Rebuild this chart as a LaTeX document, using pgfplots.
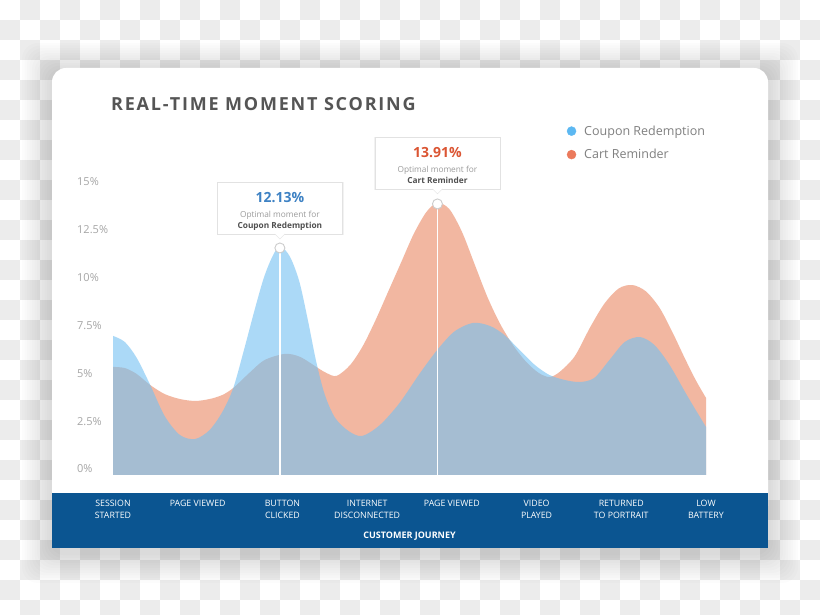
\documentclass[border=0pt]{standalone}
\usepackage{fontspec}
\setmainfont{Open Sans}
\usepackage{pgfplots}
\pgfplotsset{compat=1.18}
\definecolor{chk}{HTML}{ECECEC}
\definecolor{cpnfill}{RGB}{115,193,243}
\definecolor{crtfill}{RGB}{242,183,161}
\definecolor{barblue}{HTML}{0B5591}
\definecolor{titlegray}{HTML}{555555}
\definecolor{ticklab}{HTML}{A6A6A6}
\definecolor{legtext}{HTML}{808080}
\definecolor{cpndot}{HTML}{5CB8F2}
\definecolor{crtdot}{HTML}{EB7A5C}
\definecolor{cpnnum}{HTML}{3E82C4}
\definecolor{crtnum}{HTML}{DB5533}
\definecolor{boxline}{HTML}{E2E2E2}
\definecolor{subgray}{HTML}{9B9B9B}
\definecolor{boldgray}{HTML}{505050}
\begin{document}
\begin{tikzpicture}
\begin{scope}[x=1pt,y=-1pt,yshift=615pt]
\fill[white] (0,0) rectangle (820,615);
\foreach \i in {0,...,40}{\foreach \j in {0,...,30}{\pgfmathtruncatemacro\p{mod(\i+\j,2)}\ifnum\p=1 \fill[chk] (\i*20,\j*20) rectangle ++(20,20);\fi}}
\foreach \k in {1,...,12}{\fill[black,opacity=0.013,rounded corners=16] ({52-2.5*\k},{68-2.5*\k+5}) rectangle ({768+2.5*\k},{548+2.5*\k+5});}
\fill[white,rounded corners=14] (52,68) rectangle (768,520);
\fill[white] (52,500) rectangle (768,548);
\fill[barblue] (52,493) rectangle (768,548);
\node[anchor=west, inner sep=0pt, text=titlegray, font=\fontsize{18}{20}\selectfont\bfseries\addfontfeature{LetterSpace=10}] at (111,104) {REAL-TIME MOMENT SCORING};
\end{scope}
\begin{axis}[at={(113pt,140pt)}, anchor=south west, scale only axis, width=593pt, height=287pt,
 xmin=0, xmax=7, ymin=0, ymax=15, clip=false, axis line style={draw=none}, major tick length=0pt,
 xtick={0,...,7},
 xticklabels={{SESSION\\STARTED},{PAGE VIEWED},{BUTTON\\CLICKED},{INTERNET\\DISCONNECTED},{PAGE VIEWED},{VIDEO\\PLAYED},{RETURNED\\TO PORTRAIT},{LOW\\BATTERY}},
 xticklabel style={text=white, font=\fontsize{8.8}{12}\selectfont, align=center, anchor=north, inner sep=0pt, yshift=-25pt},
 ytick={0,2.5,5,7.5,10,12.5,15},
 yticklabels={0\%,2.5\%,5\%,7.5\%,10\%,12.5\%,15\%},
 yticklabel style={text=ticklab, font=\fontsize{11}{13}\selectfont, anchor=base west, inner sep=0pt, xshift=-36pt, yshift=2pt},
 xlabel={CUSTOMER JOURNEY},
 xlabel style={at={(axis description cs:0.5,0)}, anchor=center, yshift=-61pt, text=white, font=\fontsize{9}{11}\selectfont\bfseries},
 legend style={at={(rel axis cs:0.765,1.225)}, anchor=north west, draw=none, fill=none, font=\fontsize{12.5}{15}\selectfont, text=legtext, inner sep=0pt, row sep=8.5pt, column sep=6pt},
 legend cell align=left,
]
\addplot[draw=none, fill=crtfill, smooth, tension=0.5, forget plot] coordinates {
(0,5.65)(0.14,5.59)(0.28,5.28)(0.44,4.70)(0.61,4.23)(0.79,3.97)(0.97,3.87)(1.14,3.97)(1.29,4.18)(1.42,4.55)(1.62,5.38)(1.79,6.01)(2.03,6.33)(2.21,6.17)(2.42,5.59)(2.52,5.33)(2.64,5.18)(2.80,5.75)(2.95,6.75)(3.10,8.10)(3.25,9.60)(3.40,11.10)(3.55,12.60)(3.70,13.75)(3.83,14.22)(3.97,13.90)(4.12,12.70)(4.27,11.00)(4.42,9.30)(4.57,7.90)(4.72,6.80)(4.87,5.95)(5.02,5.35)(5.15,5.12)(5.27,5.38)(5.45,6.20)(5.63,7.70)(5.80,8.95)(5.97,9.75)(6.13,9.93)(6.29,9.60)(6.45,8.75)(6.60,7.50)(6.75,6.10)(6.88,4.95)(7.00,4.03)
} \closedcycle;
\addplot[draw=none, fill=cpnfill, fill opacity=0.6, smooth, tension=0.5, forget plot] coordinates {
(0,7.27)(0.14,6.95)(0.28,6.12)(0.44,4.70)(0.61,3.08)(0.79,2.09)(0.97,1.88)(1.14,2.35)(1.29,3.29)(1.42,4.55)(1.55,6.60)(1.67,8.60)(1.78,10.30)(1.88,11.40)(1.97,11.97)(2.09,11.40)(2.20,10.10)(2.30,8.10)(2.40,5.90)(2.50,4.20)(2.62,3.00)(2.78,2.30)(2.94,2.04)(3.15,2.61)(3.38,3.75)(3.62,5.30)(3.83,6.55)(4.03,7.50)(4.25,7.95)(4.45,7.79)(4.62,7.32)(4.80,6.53)(4.98,5.75)(5.15,5.23)(5.33,4.97)(5.51,4.86)(5.68,5.07)(5.86,6.01)(6.04,6.95)(6.22,7.21)(6.39,6.80)(6.57,5.75)(6.78,4.13)(7.00,2.51)
} \closedcycle;
\addlegendimage{legend image code/.code={\fill[cpndot] (0pt,0pt) circle (4.5pt);}}
\addlegendentry{Coupon Redemption}
\addlegendimage{legend image code/.code={\fill[crtdot] (0pt,0pt) circle (4.5pt);}}
\addlegendentry{Cart Reminder}
% peak markers and call-outs
\coordinate (P1) at (axis cs:1.97,11.97);
\coordinate (P2) at (axis cs:3.83,14.22);
\draw[white, line width=1.8pt] (axis cs:1.97,-0.2) -- (P1);
\draw[white, line width=1.8pt] (axis cs:3.83,-0.2) -- (P2);
\draw[fill=white, draw=black!20, line width=0.9pt] ([yshift=-2pt]P1) circle (5pt);
\draw[fill=white, draw=black!20, line width=0.9pt] ([yshift=-1pt]P2) circle (5pt);
% box 1
\fill[black,opacity=0.05] ([xshift=-63pt,yshift=11pt]P1) rectangle ([xshift=64pt,yshift=64pt]P1);
\draw[boxline, fill=white] ([xshift=-62.5pt,yshift=12pt]P1) rectangle ([xshift=62.5pt,yshift=64pt]P1);
\filldraw[boxline, fill=white] ([xshift=-5pt,yshift=12pt]P1) -- ([yshift=7pt]P1) -- ([xshift=5pt,yshift=12pt]P1);
\fill[white] ([xshift=-4.5pt,yshift=11.6pt]P1) rectangle ([xshift=4.5pt,yshift=13pt]P1);
\node[anchor=base, inner sep=0pt, text=cpnnum, font=\fontsize{14}{16}\selectfont\bfseries] at ([yshift=43pt]P1) {12.13\%};
\node[anchor=base, inner sep=0pt, text=subgray, font=\fontsize{8.3}{10}\selectfont] at ([yshift=28.5pt]P1) {Optimal moment for};
\node[anchor=base, inner sep=0pt, text=boldgray, font=\fontsize{8.3}{10}\selectfont\bfseries] at ([yshift=17.5pt]P1) {Coupon Redemption};
% box 2
\fill[black,opacity=0.05] ([xshift=-63pt,yshift=13pt]P2) rectangle ([xshift=64pt,yshift=66pt]P2);
\draw[boxline, fill=white] ([xshift=-62.5pt,yshift=14pt]P2) rectangle ([xshift=62.5pt,yshift=66pt]P2);
\filldraw[boxline, fill=white] ([xshift=-5pt,yshift=14pt]P2) -- ([yshift=9pt]P2) -- ([xshift=5pt,yshift=14pt]P2);
\fill[white] ([xshift=-4.5pt,yshift=13.6pt]P2) rectangle ([xshift=4.5pt,yshift=15pt]P2);
\node[anchor=base, inner sep=0pt, text=crtnum, font=\fontsize{14}{16}\selectfont\bfseries] at ([yshift=45pt]P2) {13.91\%};
\node[anchor=base, inner sep=0pt, text=subgray, font=\fontsize{8.3}{10}\selectfont] at ([yshift=30.5pt]P2) {Optimal moment for};
\node[anchor=base, inner sep=0pt, text=boldgray, font=\fontsize{8.3}{10}\selectfont\bfseries] at ([yshift=19.5pt]P2) {Cart Reminder};
\end{axis}
\pgfresetboundingbox
\path (0pt,0pt) rectangle (820pt,615pt);
\end{tikzpicture}
\end{document}
